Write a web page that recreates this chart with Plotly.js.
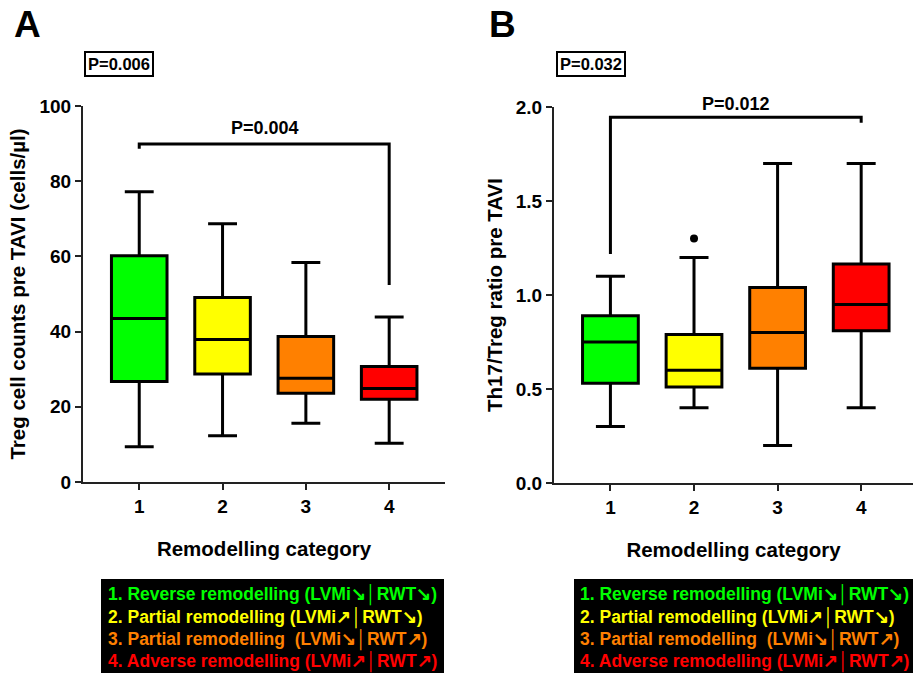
<!DOCTYPE html>
<html>
<head>
<meta charset="utf-8">
<script src="https://cdn.plot.ly/plotly-3.0.1.min.js"></script>
<style>html,body{margin:0;padding:0;background:#fff;}#chart{width:913px;height:674px;}</style>
</head>
<body>
<div id="chart"></div>
<script>
// ---------- data ----------
const categories = ['1', '2', '3', '4'];
const boxColors = ['#00ff00', '#ffff00', '#ff8000', '#ff0000'];

// Panel A: Treg cell counts pre TAVI (cells/µl)
const tregLower  = [9.4, 12.3, 15.6, 10.3];
const tregQ1     = [26.7, 28.7, 23.6, 22.0];
const tregMedian = [43.5, 37.9, 27.6, 24.9];
const tregQ3     = [60.2, 49.1, 38.7, 30.7];
const tregUpper  = [77.2, 68.7, 58.4, 43.9];

// Panel B: Th17/Treg ratio pre TAVI
const ratioLower  = [0.30, 0.40, 0.20, 0.40];
const ratioQ1     = [0.53, 0.51, 0.61, 0.81];
const ratioMedian = [0.75, 0.60, 0.80, 0.95];
const ratioQ3     = [0.89, 0.79, 1.04, 1.165];
const ratioUpper  = [1.10, 1.20, 1.70, 1.70];
const ratioOutlierCat = ['2'];
const ratioOutlierVal = [1.30];

// Significance brackets
const bracketACats = ['1', '1', '4', '4'];
const bracketAVals = [88.6, 89.9, 89.9, 52.4];
const bracketBCats = ['1', '1', '4', '4'];
const bracketBVals = [1.218, 1.945, 1.945, 1.916];

const pOverallA = 'P=0.006';
const pOverallB = 'P=0.032';
const pPairA = 'P=0.004';
const pPairB = 'P=0.012';

const legendLines = [
  '1. Reverse remodelling (LVMi\u2198\u2502RWT\u2198)',
  '2. Partial remodelling (LVMi\u2197\u2502RWT\u2198)',
  '3. Partial remodelling \u00a0(LVMi\u2198\u2502RWT\u2197)',
  '4. Adverse remodelling (LVMi\u2197\u2502RWT\u2197)'
];

// ---------- layout helpers ----------
const W = 913, H = 674;
const px = x => x / W;
const py = y => 1 - y / H;
const FONT = 'Liberation Sans, Arial, Helvetica, sans-serif';

const traces = [];
function addBoxes(xa, ya, lo, q1, med, q3, hi) {
  categories.forEach((c, i) => {
    traces.push({
      type: 'box', xaxis: xa, yaxis: ya,
      x: [c], q1: [q1[i]], median: [med[i]], q3: [q3[i]],
      lowerfence: [lo[i]], upperfence: [hi[i]],
      width: 0.667, whiskerwidth: 0.52,
      fillcolor: boxColors[i],
      line: { color: '#000', width: 3 },
      boxpoints: false, showlegend: false, hoverinfo: 'skip'
    });
  });
}
addBoxes('x', 'y', tregLower, tregQ1, tregMedian, tregQ3, tregUpper);
addBoxes('x2', 'y2', ratioLower, ratioQ1, ratioMedian, ratioQ3, ratioUpper);

traces.push({
  type: 'scatter', mode: 'markers', xaxis: 'x2', yaxis: 'y2',
  x: ratioOutlierCat, y: ratioOutlierVal,
  marker: { color: '#000', size: 8 }, showlegend: false, hoverinfo: 'skip'
});
traces.push({
  type: 'scatter', mode: 'lines', xaxis: 'x', yaxis: 'y',
  x: bracketACats, y: bracketAVals,
  line: { color: '#000', width: 3 }, showlegend: false, hoverinfo: 'skip', cliponaxis: false
});
traces.push({
  type: 'scatter', mode: 'lines', xaxis: 'x2', yaxis: 'y2',
  x: bracketBCats, y: bracketBVals,
  line: { color: '#000', width: 3 }, showlegend: false, hoverinfo: 'skip', cliponaxis: false
});

const axisCommon = {
  showline: true, linecolor: '#222', linewidth: 2,
  ticks: 'outside', ticklen: 6, tickwidth: 2, tickcolor: '#222',
  showgrid: false, zeroline: false,
  tickfont: { family: FONT, size: 19, color: '#000', weight: 'bold' }
};
const titleFont = { family: FONT, size: 20.5, color: '#000', weight: 'bold' };

const annotations = [];
// panel letters
annotations.push({ xref: 'paper', yref: 'paper', x: px(27), y: py(24), text: '<b>A</b>', showarrow: false,
  font: { family: FONT, size: 37, color: '#000' }, xanchor: 'center', yanchor: 'middle' });
annotations.push({ xref: 'paper', yref: 'paper', x: px(502), y: py(24), text: '<b>B</b>', showarrow: false,
  font: { family: FONT, size: 37, color: '#000' }, xanchor: 'center', yanchor: 'middle' });
// overall P boxes
annotations.push({ xref: 'paper', yref: 'paper', x: px(119), y: py(64), text: '<b>' + pOverallA + '</b>', showarrow: false,
  font: { family: FONT, size: 16.5, color: '#000' }, bordercolor: '#000', borderwidth: 2, borderpad: 2,
  xanchor: 'center', yanchor: 'middle' });
annotations.push({ xref: 'paper', yref: 'paper', x: px(591), y: py(64), text: '<b>' + pOverallB + '</b>', showarrow: false,
  font: { family: FONT, size: 16.5, color: '#000' }, bordercolor: '#000', borderwidth: 2, borderpad: 2,
  xanchor: 'center', yanchor: 'middle' });
// pairwise P
annotations.push({ xref: 'paper', yref: 'paper', x: px(265), y: py(128), text: '<b>' + pPairA + '</b>', showarrow: false,
  font: { family: FONT, size: 18, color: '#000' }, xanchor: 'center', yanchor: 'middle' });
annotations.push({ xref: 'paper', yref: 'paper', x: px(736), y: py(104), text: '<b>' + pPairB + '</b>', showarrow: false,
  font: { family: FONT, size: 18, color: '#000' }, xanchor: 'center', yanchor: 'middle' });
// legends
const legendY = [595, 617.5, 640, 662];
[106, 578].forEach(lx => {
  legendLines.forEach((t, i) => {
    annotations.push({ xref: 'paper', yref: 'paper', x: px(lx), y: py(legendY[i]), text: '<b>' + t + '</b>',
      showarrow: false, font: { family: FONT, size: 17.5, color: boxColors[i] },
      xanchor: 'left', yanchor: 'middle' });
  });
});

const layout = {
  width: W, height: H,
  margin: { l: 0, r: 0, t: 0, b: 0 },
  paper_bgcolor: '#fff', plot_bgcolor: '#fff',
  showlegend: false,
  xaxis: Object.assign({}, axisCommon, {
    domain: [px(83), px(445)], type: 'category', categoryarray: categories,
    range: [-0.675, 3.67], anchor: 'y',
    title: { text: '<b>Remodelling category</b>', font: titleFont, standoff: 26 }
  }),
  yaxis: Object.assign({}, axisCommon, {
    domain: [py(482), py(106)], range: [0, 100], tickvals: [0, 20, 40, 60, 80, 100], anchor: 'x',
    title: { text: '<b>Treg cell counts pre TAVI (cells/\u00b5l)</b>', font: titleFont, standoff: 8 }
  }),
  xaxis2: Object.assign({}, axisCommon, {
    domain: [px(554), 1], type: 'category', categoryarray: categories,
    range: [-0.675, 3.62], anchor: 'y2',
    title: { text: '<b>Remodelling category</b>', font: titleFont, standoff: 26 }
  }),
  yaxis2: Object.assign({}, axisCommon, {
    domain: [py(483), py(107)], range: [0, 2], tickvals: [0, 0.5, 1, 1.5, 2],
    ticktext: ['0.0', '0.5', '1.0', '1.5', '2.0'], anchor: 'x2',
    title: { text: '<b>Th17/Treg ratio pre TAVI</b>', font: titleFont, standoff: 8 }
  }),
  shapes: [
    { type: 'rect', xref: 'paper', yref: 'paper', x0: px(101), x1: px(444), y0: py(673), y1: py(579),
      fillcolor: '#000', line: { width: 0 }, layer: 'below' },
    { type: 'rect', xref: 'paper', yref: 'paper', x0: px(574), x1: px(913), y0: py(673), y1: py(579),
      fillcolor: '#000', line: { width: 0 }, layer: 'below' }
  ],
  annotations: annotations
};

Plotly.newPlot('chart', traces, layout, { displayModeBar: false, staticPlot: true });
</script>
</body>
</html>
